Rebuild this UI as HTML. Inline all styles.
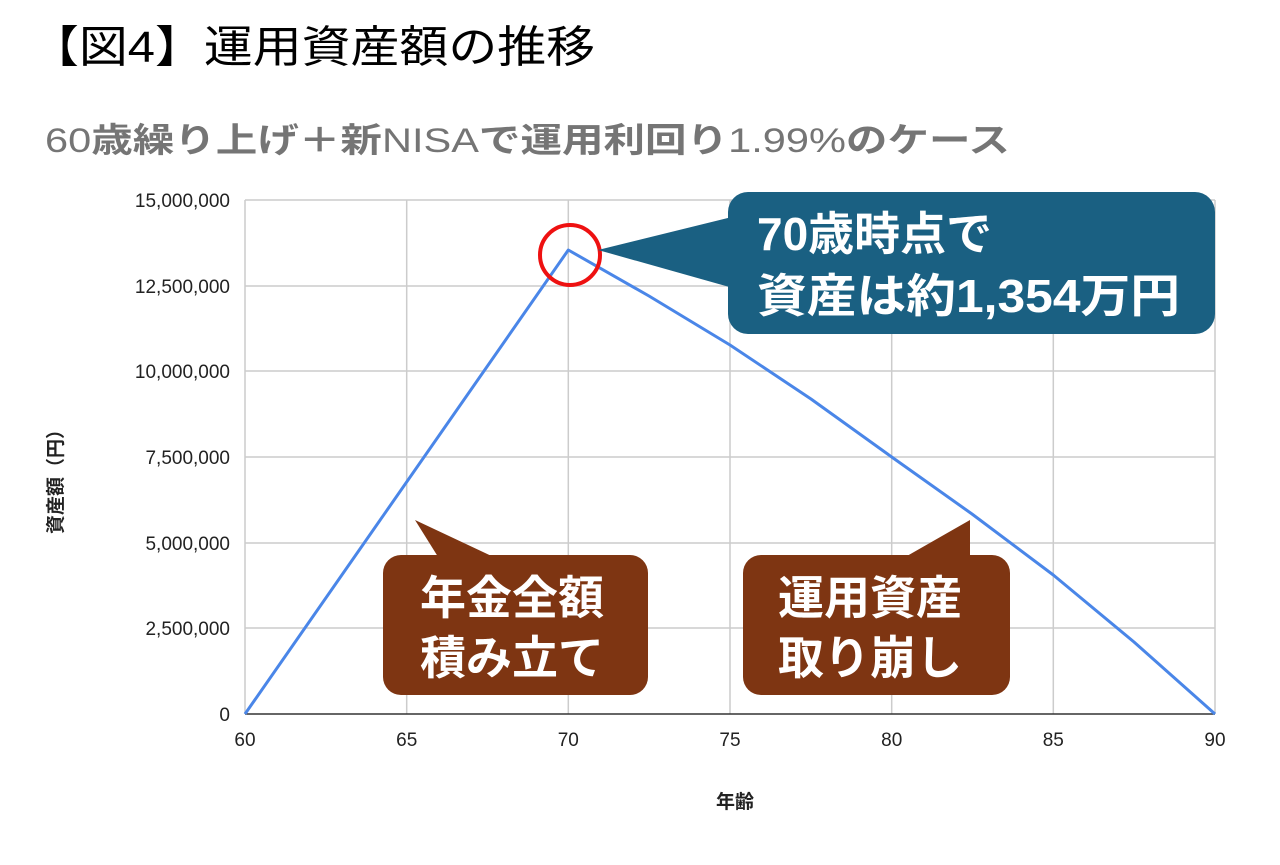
<!DOCTYPE html>
<html><head><meta charset="utf-8"><style>
html,body{margin:0;padding:0;background:#fff}
text{font-family:"Liberation Sans","Noto Sans CJK JP",sans-serif}
</style></head><body>
<svg width="1280" height="860" viewBox="0 0 1280 860" xmlns="http://www.w3.org/2000/svg">
<rect width="1280" height="860" fill="#fff"/>
<text x="30" y="62" font-size="44" fill="#000" textLength="565" lengthAdjust="spacingAndGlyphs">【図4】運用資産額の推移</text>
<text x="45" y="152" font-size="34" font-weight="bold" fill="#757575" textLength="965" lengthAdjust="spacingAndGlyphs"><tspan font-weight="normal">60</tspan>歳繰り上げ＋新<tspan font-weight="normal">NISA</tspan>で運用利回り<tspan font-weight="normal">1.99%</tspan>のケース</text>
<g stroke="#cccccc" stroke-width="1.5">
<line x1="245" y1="200" x2="1215" y2="200"/>
<line x1="245" y1="286" x2="1215" y2="286"/>
<line x1="245" y1="371" x2="1215" y2="371"/>
<line x1="245" y1="457" x2="1215" y2="457"/>
<line x1="245" y1="543" x2="1215" y2="543"/>
<line x1="245" y1="628" x2="1215" y2="628"/>
<line x1="245" y1="200" x2="245" y2="714"/>
<line x1="406.7" y1="200" x2="406.7" y2="714"/>
<line x1="568.3" y1="200" x2="568.3" y2="714"/>
<line x1="730" y1="200" x2="730" y2="714"/>
<line x1="891.7" y1="200" x2="891.7" y2="714"/>
<line x1="1053.3" y1="200" x2="1053.3" y2="714"/>
<line x1="1215" y1="200" x2="1215" y2="714"/>
</g>
<line x1="245" y1="714" x2="1215" y2="714" stroke="#333" stroke-width="1.5"/>
<g font-size="19" fill="#222" text-anchor="end">
<text x="230" y="207">15,000,000</text>
<text x="230" y="293">12,500,000</text>
<text x="230" y="378">10,000,000</text>
<text x="230" y="464">7,500,000</text>
<text x="230" y="550">5,000,000</text>
<text x="230" y="635">2,500,000</text>
<text x="230" y="721">0</text>
</g>
<g font-size="19" fill="#222" text-anchor="middle">
<text x="245" y="746">60</text>
<text x="406.7" y="746">65</text>
<text x="568.3" y="746">70</text>
<text x="730" y="746">75</text>
<text x="891.7" y="746">80</text>
<text x="1053.3" y="746">85</text>
<text x="1215" y="746">90</text>
</g>
<text x="735" y="808" font-size="19" font-weight="bold" fill="#222" text-anchor="middle">年齢</text>
<text transform="translate(62,477) rotate(-90)" font-size="19" font-weight="bold" fill="#222" text-anchor="middle">資産額（円）</text>
<polyline points="245,714 568.3,250 649,296 730,345 811,399 891.7,457 972,514 1053.3,575 1134,642 1215,714" fill="none" stroke="#4a86e8" stroke-width="3" stroke-linejoin="round"/>
<circle cx="570" cy="255" r="30" fill="none" stroke="#ee1111" stroke-width="4"/>
<path d="M598,250 L740,215 L740,290 Z" fill="#1a6082"/>
<rect x="728" y="192" width="487" height="142" rx="20" fill="#1a6082"/>
<text x="757" y="250" font-size="46" font-weight="bold" fill="#fff">70歳時点で</text>
<text x="757" y="312" font-size="46" font-weight="bold" fill="#fff" textLength="423" lengthAdjust="spacingAndGlyphs">資産は約1,354万円</text>
<path d="M415,520 L500,560 L440,560 Z" fill="#7e3512"/>
<rect x="383" y="555" width="265" height="140" rx="18" fill="#7e3512"/>
<text x="512" y="614" font-size="46" font-weight="bold" fill="#fff" text-anchor="middle">年金全額</text>
<text x="512" y="674" font-size="46" font-weight="bold" fill="#fff" text-anchor="middle">積み立て</text>
<path d="M970,520 L970,565 L900,560 Z" fill="#7e3512"/>
<rect x="743" y="555" width="267" height="140" rx="18" fill="#7e3512"/>
<text x="870" y="614" font-size="46" font-weight="bold" fill="#fff" text-anchor="middle">運用資産</text>
<text x="870" y="674" font-size="46" font-weight="bold" fill="#fff" text-anchor="middle">取り崩し</text>
</svg>
</body></html>
